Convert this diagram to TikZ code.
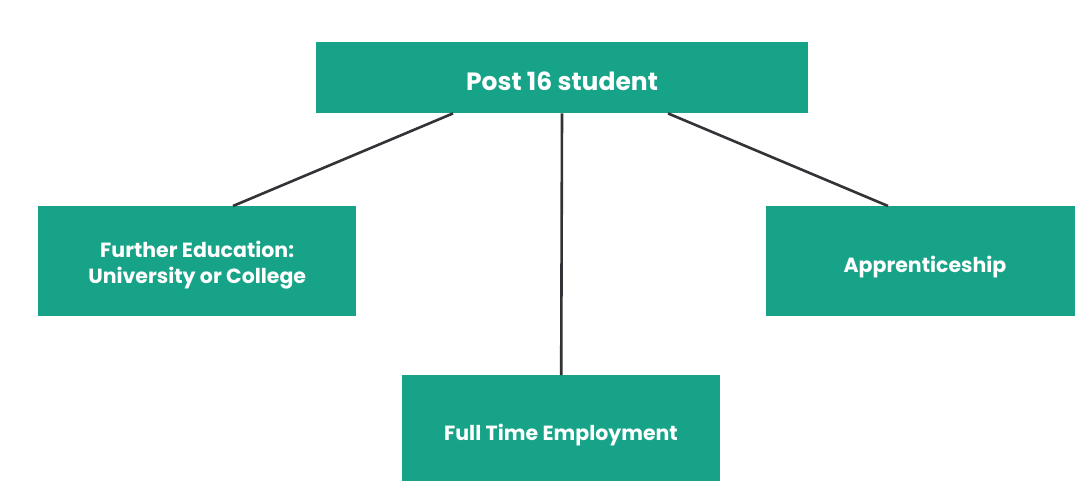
\documentclass[tikz,border=0pt]{standalone}
\usepackage{fontspec}
\setmainfont{Poppins}
\definecolor{teal1}{RGB}{22,163,135}
\definecolor{line1}{RGB}{50,50,55}
\tikzset{
  box/.style={fill=teal1, draw=none, inner sep=0pt, anchor=north west},
  conn/.style={draw=line1, line width=2.6pt},
  bigtxt/.style={font=\bfseries\fontsize{25}{30}\selectfont, text=white, inner sep=0pt, anchor=base},
  smalltxt/.style={font=\bfseries\fontsize{20.5}{25.5}\selectfont, text=white, inner sep=0pt, align=center}
}
\begin{document}
\begin{tikzpicture}[x=1pt,y=-1pt]
\useasboundingbox (0,0) rectangle (1075,481);
\node[box, minimum width=492pt, minimum height=71pt] (top) at (316,42) {};
\node[bigtxt] (toplabel) at (562,91) {Post 16 student};
\node[box, minimum width=318pt, minimum height=110pt] (left) at (38,206) {};
\node[smalltxt, anchor=center] (leftlabel) at ([yshift=-4pt]left.center) {Further Education:\\University or College};
\node[box, minimum width=309pt, minimum height=110pt] (right) at (766,206) {};
\node[smalltxt, anchor=base] (rightlabel) at (925,272) {Apprenticeship};
\node[box, minimum width=318pt, minimum height=106pt] (bottom) at (402,375) {};
\node[smalltxt, anchor=base] (bottomlabel) at (561,440) {Full Time Employment};
\draw[conn] ([xshift=137pt]top.south west) -- ([xshift=195pt]left.north west);
\draw[conn] ([xshift=246pt]top.south west) -- (bottom.north);
\draw[conn] ([xshift=352pt]top.south west) -- ([xshift=122pt]right.north west);
\end{tikzpicture}
\end{document}
